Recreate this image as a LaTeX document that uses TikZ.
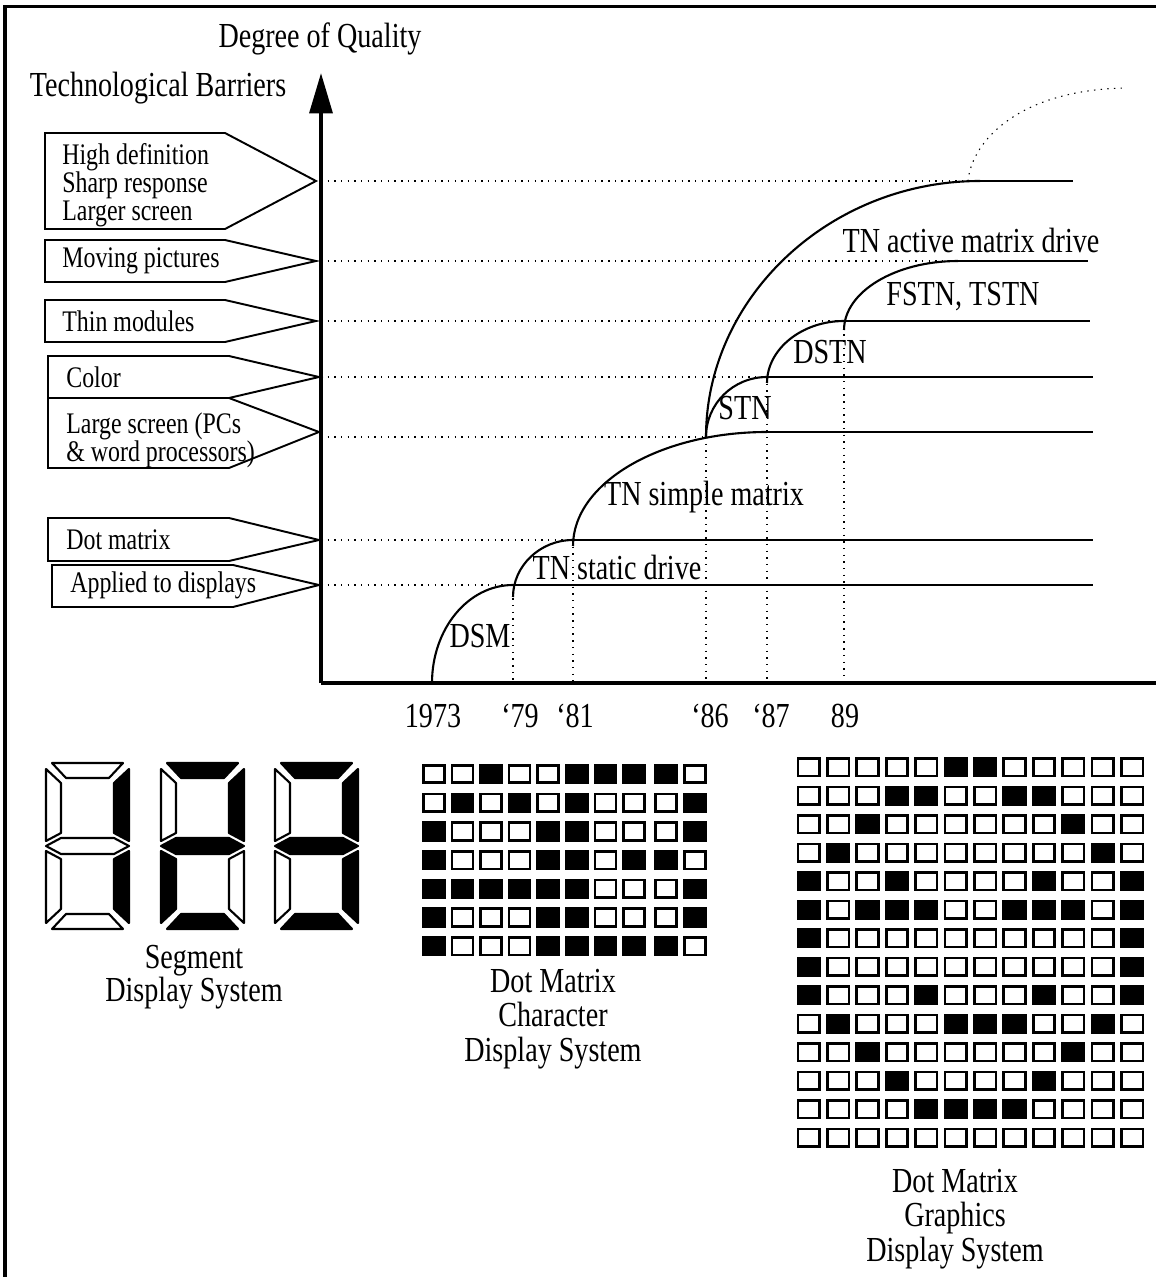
\documentclass[tikz,border=0pt]{standalone}
\usepackage{fontspec}
\setmainfont{Liberation Serif}[FakeStretch=0.8]
\usetikzlibrary{arrows.meta}

\begin{document}
\lineskiplimit=-100pt
\begin{tikzpicture}[x=0.02cm,y=-0.02cm,
    font=\fontsize{20}{16}\selectfont,
    frameline/.style={line width=2pt},
    axisline/.style={line width=2.2pt},
    curveline/.style={line width=1.2pt},
    levelline/.style={line width=1.3pt},
    guideline/.style={line width=0.6pt,dash pattern=on 0.8pt off 3pt},
    tagline/.style={line width=1.1pt},
    tagtext/.style={anchor=west,align=left,inner sep=0pt,font=\fontsize{17}{16}\selectfont},
    seg/.style={line width=1.2pt,line join=round},
    dotbox/.style={line width=1.5pt},
    caption/.style={align=center,inner sep=0pt}]

          \useasboundingbox (0,0) rectangle (1156,1277);

          % frame
          \draw[frameline] (5,1277) -- (5,6.5) -- (1156,6.5);

          % axes
          \coordinate (origin) at (321,683);
          \coordinate (ytop) at (321,73);
          \coordinate (xend) at (1156,683);
          \draw[axisline,-{Triangle[length=23pt,width=13pt]}] (origin) -- (ytop);
          \draw[axisline] (origin) -- (xend);
          \node (quality) at (320,39) {Degree of Quality};
          \node (barriers) at (158,88) {Technological Barriers};

          % barrier tags
          \draw[tagline] (45,133) -- (225,133) -- (316,181) -- (225,229) -- (45,229) -- cycle;
          \node[tagtext] (hidef) at (62,185) {High definition\\Sharp response\\Larger screen};
          \draw[tagline] (45,240) -- (225,240) -- (316,261) -- (225,282) -- (45,282) -- cycle;
          \node[tagtext] (moving) at (62,261) {Moving pictures};
          \draw[tagline] (45,300) -- (225,300) -- (316,321) -- (225,342) -- (45,342) -- cycle;
          \node[tagtext] (thin) at (62,321) {Thin modules};
          \draw[tagline] (48,356) -- (229,356) -- (319,377) -- (229,398) -- (48,398) -- cycle;
          \node[tagtext] (color) at (66,377) {Color};
          \draw[tagline] (48,398) -- (229,398) -- (319,432) -- (229,468) -- (48,468) -- cycle;
          \node[tagtext] (large) at (66,440) {Large screen (PCs\\\& word processors)};
          \draw[tagline] (48,518) -- (229,518) -- (319,540) -- (229,561) -- (48,561) -- cycle;
          \node[tagtext] (dotmat) at (66,540) {Dot matrix};
          \draw[tagline] (52,565) -- (233,565) -- (319,585) -- (233,607) -- (52,607) -- cycle;
          \node[tagtext] (applied) at (70,585) {Applied to displays};

          % junctions of the curves
          \coordinate (dsmtop) at (513,585);
          \coordinate (statictop) at (573,540);
          \coordinate (simplemid) at (706,437);
          \coordinate (simpletop) at (767,432);
          \coordinate (stntop) at (767,377);
          \coordinate (dstntop) at (844,321);
          \coordinate (fstntop) at (958,261);
          \coordinate (activetop) at (980,181);

          % dotted guides
          \draw[guideline] (origin |- dsmtop) -- (dsmtop);
          \draw[guideline] (origin |- statictop) -- (statictop);
          \draw[guideline] (origin |- simplemid) -- (simplemid);
          \draw[guideline] (origin |- stntop) -- (stntop);
          \draw[guideline] (origin |- dstntop) -- (dstntop);
          \draw[guideline] (origin |- fstntop) -- (fstntop);
          \draw[guideline] (origin |- activetop) -- (activetop);
          \draw[guideline] (dsmtop) -- (dsmtop |- origin);
          \draw[guideline] (statictop) -- (statictop |- origin);
          \draw[guideline] (simplemid) -- (simplemid |- origin);
          \draw[guideline] (stntop) -- (stntop |- origin);
          \draw[guideline] (dstntop) -- (dstntop |- origin);
          \draw[guideline] (968,181) .. controls (972,140) and (1020,90) .. (1125,88);

          % technology curves
          \draw[curveline] (432,683) .. controls (432,629) and (468,585) .. (dsmtop);
          \draw[curveline] (513,597) .. controls (513,566) and (540,540) .. (statictop);
          \draw[curveline] (573,546) .. controls (573,483) and (660,432) .. (simpletop);
          \draw[curveline] (simplemid) .. controls (706,404) and (733,377) .. (stntop);
          \draw[curveline] (simplemid) .. controls (706,298) and (829,181) .. (activetop);
          \draw[curveline] (767,383) .. controls (767,349) and (802,321) .. (dstntop);
          \draw[curveline] (844,330) .. controls (844,292) and (895,261) .. (fstntop);

          % levels reached
          \draw[levelline] (dsmtop) -- (1093,585);
          \draw[levelline] (statictop) -- (1093,540);
          \draw[levelline] (simpletop) -- (1093,432);
          \draw[levelline] (stntop) -- (1093,377);
          \draw[levelline] (dstntop) -- (1090,321);
          \draw[levelline] (fstntop) -- (1088,261);
          \draw[levelline] (activetop) -- (1073,181);

          \node (dsm) at (480,636) {DSM};
          \node (static) at (617,567) {TN static drive};
          \node (simple) at (704,497) {TN simple matrix};
          \node (stn) at (745,408) {STN};
          \node (dstn) at (830,352) {DSTN};
          \node (fstn) at (963,297) {FSTN, TSTN};
          \node (active) at (971,240) {TN active matrix drive};

          % years
          \node (y73) at (433,716) {1973};
          \node (y79) at (520,716) {‘79};
          \node (y81) at (575,716) {‘81};
          \node (y86) at (710,716) {‘86};
          \node (y87) at (771,716) {‘87};
          \node (y89) at (845,716) {89};

          % segment digits
          \foreach \dx/\sa/\sf/\sb/\sg/\se/\sc/\sd in {46/white/white/black/white/white/black/white,
              161/black/white/black/black/black/white/black,
              275/black/white/black/black/white/black/black}{
            \begin{scope}[shift={(\dx,763)}]
              \draw[seg,fill=\sa] (6,0) -- (77,0) -- (63,15) -- (20,15) -- cycle;
              \draw[seg,fill=\sf] (0,6) -- (15,20) -- (15,70) -- (0,78) -- cycle;
              \draw[seg,fill=\sb] (83,6) -- (68,20) -- (68,70) -- (83,78) -- cycle;
              \draw[seg,fill=\sg] (0,83) -- (15,75) -- (68,75) -- (83,83) -- (68,91) -- (15,91) -- cycle;
              \draw[seg,fill=\se] (0,88) -- (15,96) -- (15,146) -- (0,160) -- cycle;
              \draw[seg,fill=\sc] (83,88) -- (68,96) -- (68,146) -- (83,160) -- cycle;
              \draw[seg,fill=\sd] (20,151) -- (63,151) -- (77,166) -- (6,166) -- cycle;
            \end{scope}
          }
          \node[caption,font=\fontsize{20}{19}\selectfont] (segcap) at (194,977) {Segment\\Display System};

          % character matrix
          \foreach \dotrow [count=\dotr] in {{0,0,1,0,0,1,1,1,1,0},{0,1,0,1,0,1,0,0,0,1},
              {1,0,0,0,1,1,0,0,0,1},{1,0,0,0,1,1,0,1,1,0},{1,1,1,1,1,1,0,0,0,1},
              {1,0,0,0,1,1,0,0,0,1},{1,0,0,0,1,1,1,1,1,0}}{
            \foreach \dotval [count=\dotc] in \dotrow {
              \ifnum\dotval=1 \def\dotcol{black}\else\def\dotcol{white}\fi
              \ifnum\dotc>8 \def\dotgap{3.5}\else\def\dotgap{0}\fi
              \draw[dotbox,fill=\dotcol] (423.3+28.6*\dotc-28.6+\dotgap,765.3+28.7*\dotr-28.7) rectangle ++(21,17.5);
            }
          }
          \node[caption,font=\fontsize{20}{19.8}\selectfont] (charcap) at (553,1019) {Dot Matrix\\Character\\Display System};

          % graphics matrix
          \foreach \dotrow [count=\dotr] in {{0,0,0,0,0,1,1,0,0,0,0,0},{0,0,0,1,1,0,0,1,1,0,0,0},
              {0,0,1,0,0,0,0,0,0,1,0,0},{0,1,0,0,0,0,0,0,0,0,1,0},{1,0,0,1,0,0,0,0,1,0,0,1},
              {1,0,1,1,1,0,0,1,1,1,0,1},{1,0,0,0,0,0,0,0,0,0,0,1},{1,0,0,0,0,0,0,0,0,0,0,1},
              {1,0,0,0,1,0,0,0,1,0,0,1},{0,1,0,0,0,1,1,1,0,0,1,0},{0,0,1,0,0,0,0,0,0,1,0,0},
              {0,0,0,1,0,0,0,0,1,0,0,0},{0,0,0,0,1,1,1,1,0,0,0,0},{0,0,0,0,0,0,0,0,0,0,0,0}}{
            \foreach \dotval [count=\dotc] in \dotrow {
              \ifnum\dotval=1 \def\dotcol{black}\else\def\dotcol{white}\fi
              \draw[dotbox,fill=\dotcol] (798+29.4*\dotc-29.4,758.5+28.5*\dotr-28.5) rectangle ++(21.5,17.5);
            }
          }
          \node[caption,font=\fontsize{20}{19.8}\selectfont] (graphcap) at (955,1219) {Dot Matrix\\Graphics\\Display System};

\end{tikzpicture}
\end{document}
